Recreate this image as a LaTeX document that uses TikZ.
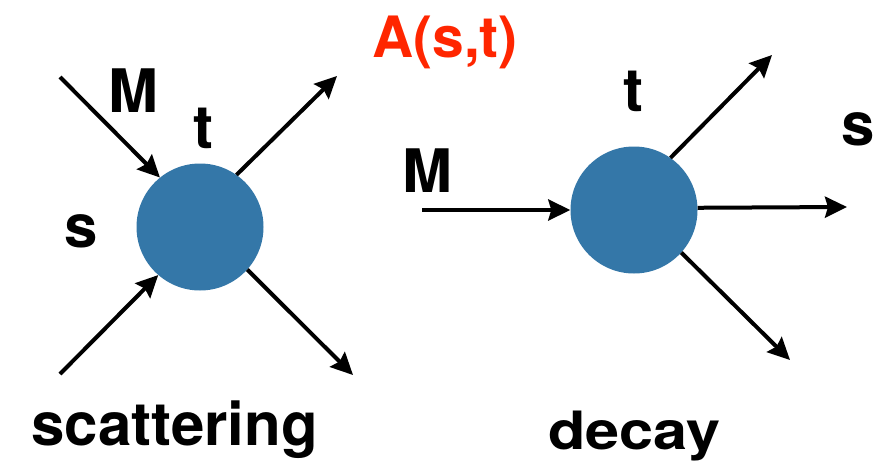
\documentclass[tikz,border=0pt]{standalone}
\usepackage{fontspec}
\setmainfont{TeX Gyre Heros}
\usetikzlibrary{arrows.meta}
\definecolor{blobblue}{RGB}{52,119,168}
\definecolor{ampred}{RGB}{255,38,0}
\tikzset{
  blob/.style={circle,fill=blobblue,draw=none,minimum size=127pt,inner sep=0pt},
  leg/.style={line width=4pt,-{Stealth[length=22pt,width=21pt,inset=3pt]}},
  lbl/.style={inner sep=0pt,font=\fontsize{60}{60}\selectfont\bfseries},
}
\begin{document}
\begin{tikzpicture}[x=1pt,y=-1pt]
\useasboundingbox (0,0) rectangle (889,466);
\fill[white] (0,0) rectangle (889,466);
% scattering
\node[blob] (L) at (200,227) {};
\coordinate (li1) at (60,77);
\coordinate (li2) at (60,374);
\coordinate (lo1) at (337,76);
\coordinate (lo2) at (353,375);
\draw[leg] (li1) -- (L.129);
\draw[leg] (li2) -- (L.229);
\draw[leg] (L.55) -- (lo1);
\draw[leg] (L.318) -- (lo2);
\node[lbl] (lM) at (133,91) {M};
\node[lbl] (lt) at (203,128) {t};
\node[lbl] (ls) at (81,231) {s};
\node[lbl,anchor=base] (scat) at (174.5,445) {scattering};
% amplitude
\node[inner sep=0pt,font=\fontsize{57}{57}\selectfont\bfseries,text=ampred] (amp) at (445,42) {A(s,t)};
% decay
\node[blob] (R) at (634,210) {};
\coordinate (ri) at (422,210);
\coordinate (ro1) at (772,55);
\coordinate (ro2) at (847,207);
\coordinate (ro3) at (790,360);
\draw[leg] (ri) -- (R.180);
\draw[leg] (R.55) -- (ro1);
\draw[leg] (R.2) -- (ro2);
\draw[leg] (R.318) -- (ro3);
\node[lbl] (rM) at (427,171) {M};
\node[lbl] (rt) at (633,91) {t};
\node[lbl] (rs) at (858,129) {s};
\node[lbl,anchor=base] (dec) at (634.5,449) {\scalebox{1.02}[0.88]{decay}};
\end{tikzpicture}
\end{document}
